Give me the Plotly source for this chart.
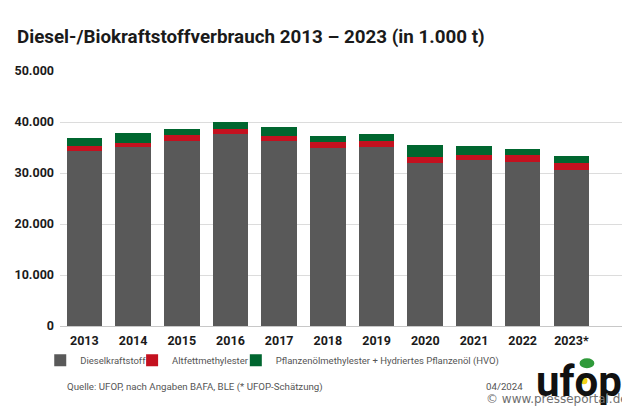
import plotly.graph_objects as go

years = ["2013", "2014", "2015", "2016", "2017", "2018", "2019", "2020", "2021", "2022", "2023*"]
diesel = [34300, 35100, 36350, 37600, 36200, 35000, 35100, 32000, 32600, 32250, 30500]
altfett = [1000, 800, 1050, 1100, 1000, 1100, 1100, 1100, 1000, 1200, 1450]
pflanzen = [1650, 1950, 1300, 1300, 1800, 1250, 1500, 2300, 1600, 1350, 1350]
series_names = ["Dieselkraftstoff", "Altfettmethylester",
                "Pflanzenölmethylester + Hydriertes Pflanzenöl (HVO)"]
y_ticks = [0, 10000, 20000, 30000, 40000, 50000]

OFF = 8  # page offset of the figure inside the browser window
PW, PH = 630, 412
W, H = PW - OFF, PH - OFF
L, R, T, B = 53, 623, 70.7, 325.7  # plot area in page pixels

def px(x):
    return (x - L) / (R - L)

def py(y):
    return (B - y) / (B - T)

colors = ["#595959", "#c4111f", "#00662f"]
legend_ids = ["legend", "legend2", "legend3"]
legend_square_x = [65, 158, 263]

fig = go.Figure()
for name, vals, c, lg in zip(series_names, [diesel, altfett, pflanzen], colors, legend_ids):
    fig.add_trace(go.Bar(x=years, y=vals, name=name, legend=lg,
                         marker=dict(color=c, line=dict(width=0))))

leg_font = dict(size=9.5, color="#555555", family="Roboto")
legends = {}
for lg, sx in zip(legend_ids, legend_square_x):
    legends[lg] = dict(orientation="h", x=px(sx - 32), xanchor="left", y=py(360), yanchor="middle",
                       font=leg_font, itemwidth=30, bgcolor="rgba(0,0,0,0)")

fig.update_layout(
    width=W, height=H,
    margin=dict(l=L - OFF, r=PW - R, t=T - OFF, b=H - (B - OFF), pad=0),
    barmode="stack", bargap=0.27,
    plot_bgcolor="white", paper_bgcolor="white",
    separators=",.",
    font=dict(family="Roboto", color="#1a1a1a"),
    showlegend=True,
    **legends,
    xaxis=dict(type="category", range=[-0.5, 11.06], showgrid=False, showline=False,
               ticks="", ticklabelstandoff=5,
               tickfont=dict(size=12.5, color="#1a1a1a", family="Roboto", weight="bold")),
    yaxis=dict(range=[0, 50000], tickvals=y_ticks, tickformat=",d", showgrid=True,
               gridcolor="#dcdcdc", gridwidth=1, zeroline=True, zerolinecolor="#c8c8c8",
               zerolinewidth=1, showline=False, ticks="", ticklabelstandoff=5,
               tickfont=dict(size=12.5, color="#1a1a1a", family="Roboto", weight="bold")),
)

fig.add_annotation(text="<b>Diesel-/Biokraftstoffverbrauch 2013 – 2023 (in 1.000 t)</b>",
                   xref="paper", yref="paper", x=px(7), y=py(37), xanchor="left", yanchor="middle",
                   showarrow=False, font=dict(size=18.8, color="#1a1a1a", family="Roboto"))
fig.add_annotation(text="Quelle: UFOP, nach Angaben BAFA, BLE (* UFOP-Schätzung)",
                   xref="paper", yref="paper", x=px(58), y=py(387), xanchor="left", yanchor="middle",
                   showarrow=False, font=dict(size=9.7, color="#555555", family="Roboto"))
fig.add_annotation(text="04/2024",
                   xref="paper", yref="paper", x=px(482), y=py(386), xanchor="left", yanchor="middle",
                   showarrow=False, font=dict(size=9.7, color="#555555", family="Roboto"))
# logo
fig.add_annotation(text="<b>ufop</b>",
                   xref="paper", yref="paper", x=px(578), y=py(381), xanchor="center", yanchor="middle",
                   showarrow=False, font=dict(size=42, color="#111111", family="Roboto"))
fig.add_shape(type="circle", xref="paper", yref="paper",
              x0=px(579), x1=px(594), y0=py(368), y1=py(358),
              fillcolor="#2f9a3a", line=dict(width=0))
fig.add_shape(type="circle", xref="paper", yref="paper",
              x0=px(580), x1=px(587), y0=py(384), y1=py(377),
              fillcolor="#f2d21b", line=dict(width=0))
fig.add_annotation(text="© www.presseportal.de",
                   xref="paper", yref="paper", x=px(630), y=py(399), xanchor="right", yanchor="middle",
                   showarrow=False, font=dict(size=12, color="#6f6f6f", family="DejaVu Sans"))

fig.write_html("out.html")
